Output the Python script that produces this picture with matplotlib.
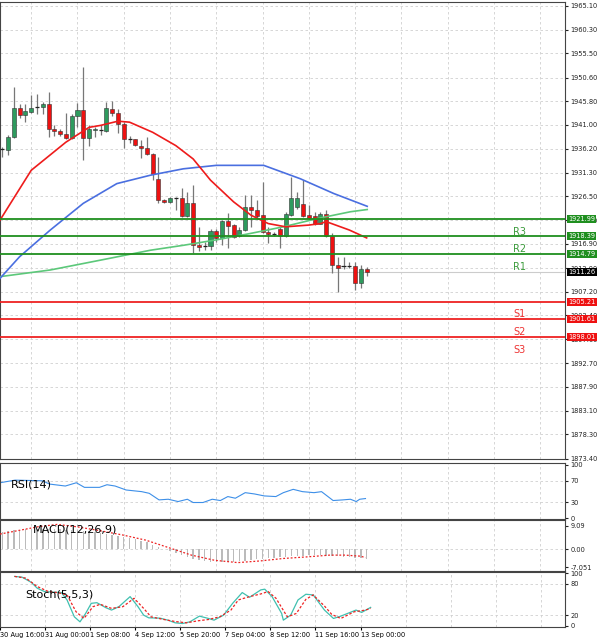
import numpy as np
import matplotlib.pyplot as plt

# candles: open, close, high, low
opens = [1936.2, 1936.0, 1938.5, 1944.4, 1943.1, 1943.6, 1944.7, 1944.7, 1945.25, 1940.2,
         1939.7, 1939.2, 1938.4, 1942.7, 1944.0, 1938.4, 1939.9, 1940.0, 1939.7, 1944.2,
         1943.4, 1941.2, 1938.05, 1938.05, 1936.8, 1936.4, 1935.2, 1930.1, 1925.7, 1925.4,
         1926.1, 1926.1, 1922.5, 1925.1, 1916.65, 1916.45, 1916.45, 1919.5, 1918.0, 1921.6,
         1920.7, 1918.5, 1919.7, 1924.4, 1923.7, 1922.7, 1919.3, 1918.9, 1920.0, 1918.5,
         1922.7, 1924.4, 1924.9, 1922.7, 1922.5, 1921.0, 1923.0, 1918.5, 1912.6, 1912.4,
         1912.4, 1912.4, 1909.0, 1911.7]
closes = [1936.3, 1938.5, 1944.4, 1943.1, 1943.8, 1944.4, 1944.8, 1945.25, 1940.2, 1939.7,
          1939.2, 1938.4, 1942.8, 1944.0, 1938.4, 1940.2, 1940.1, 1940.05, 1944.4, 1943.4,
          1941.2, 1938.2, 1938.0, 1937.0, 1936.4, 1935.2, 1931.1, 1925.7, 1925.4, 1926.1,
          1926.05, 1922.5, 1925.1, 1916.65, 1916.3, 1916.4, 1919.5, 1918.0, 1921.6, 1920.5,
          1918.3, 1919.7, 1924.4, 1923.7, 1922.5, 1919.3, 1918.9, 1918.85, 1918.5, 1922.9,
          1926.2, 1926.2, 1922.5, 1922.2, 1921.0, 1923.0, 1918.5, 1912.6, 1912.1, 1912.35,
          1912.35, 1909.0, 1911.7, 1911.26]
highs = [1936.6, 1938.9, 1948.6, 1945.25, 1945.25, 1947.1, 1947.27, 1945.6, 1947.6, 1940.9,
         1940.2, 1943.4, 1943.2, 1945.4, 1952.65, 1940.9, 1940.5, 1940.9, 1945.6, 1945.9,
         1944.2, 1941.55, 1938.7, 1938.2, 1938.0, 1938.5, 1935.3, 1934.5, 1925.9, 1926.4,
         1926.3, 1928.2, 1927.4, 1928.8, 1920.35, 1917.3, 1920.0, 1920.0, 1921.7, 1923.2,
         1921.0, 1920.35, 1926.7, 1926.7, 1925.7, 1929.4, 1920.35, 1919.3, 1920.35, 1923.4,
         1930.4, 1927.4, 1929.8, 1924.7, 1923.4, 1923.4, 1923.7, 1919.0, 1914.3, 1914.3,
         1913.3, 1913.3, 1912.6, 1912.3]
lows = [1934.5, 1934.8, 1938.4, 1942.4, 1941.55, 1943.4, 1943.2, 1943.2, 1938.5, 1938.7,
        1938.7, 1938.1, 1938.2, 1940.5, 1933.9, 1936.8, 1938.5, 1938.9, 1939.5, 1942.9,
        1939.3, 1936.4, 1937.3, 1936.8, 1934.35, 1934.8, 1929.8, 1925.1, 1925.1, 1925.2,
        1923.7, 1922.4, 1922.4, 1915.0, 1915.5, 1915.6, 1915.6, 1917.3, 1916.65, 1916.0,
        1918.0, 1918.2, 1919.5, 1920.35, 1922.0, 1919.0, 1917.0, 1918.5, 1916.0, 1918.3,
        1922.5, 1924.05, 1922.4, 1921.7, 1920.7, 1920.9, 1918.3, 1910.9, 1907.2, 1911.9,
        1912.1, 1907.6, 1907.9, 1910.3]

# moving averages (candle index, price)
ma_red_x = [-0.4, 5, 11, 15, 17, 20, 22, 26, 30, 33, 36, 40, 43, 46, 49, 53, 55, 56, 60, 63]
ma_red_y = [1921.7, 1931.8, 1937.5, 1940.5, 1940.9, 1941.75, 1941.55, 1939.5, 1936.8, 1934.1,
            1929.8, 1925.4, 1922.7, 1921.0, 1920.35, 1920.7, 1921.0, 1921.4, 1919.7, 1918.1]
ma_blue_x = [-0.4, 3, 8.3, 14, 19.8, 25.6, 31.3, 37, 45.2, 51.5, 57.3, 63.1]
ma_blue_y = [1909.9, 1914.3, 1919.7, 1925.1, 1929.1, 1930.8, 1932.1, 1932.8, 1932.8, 1930.1, 1927.1, 1924.5]
ma_green_x = [-0.4, 8.3, 17, 25.6, 31.3, 37, 42.9, 48.6, 54.4, 60.2, 63.1]
ma_green_y = [1910.25, 1911.6, 1913.6, 1915.6, 1916.6, 1917.7, 1919.0, 1920.35, 1922.0, 1923.4, 1923.85]

res_names = ['R3', 'R2', 'R1']
res_levels = [1921.99, 1918.39, 1914.79]
sup_names = ['S1', 'S2', 'S3']
sup_levels = [1905.21, 1901.61, 1898.01]
last_price = 1911.26

price_ticks = [1965.10, 1960.30, 1955.50, 1950.60, 1945.80, 1941.00, 1936.20, 1931.30, 1926.50,
               1921.70, 1916.90, 1912.00, 1907.20, 1902.40, 1897.60, 1892.70, 1887.90, 1883.10,
               1878.30, 1873.40]

date_idx = [-3, 5, 13, 21, 29, 37, 45, 53, 61]
date_labels = ['30 Aug 16:00', '31 Aug 00:00', '1 Sep 08:00', '4 Sep 12:00', '5 Sep 20:00',
               '7 Sep 04:00', '8 Sep 12:00', '11 Sep 16:00', '13 Sep 00:00']

rsi_x = [-0.4, 2.2, 6.9, 8.2, 10.9, 12.8, 14.2, 16.8, 18.1, 19.5, 21.4, 24.1, 25.4, 27.1, 28.7,
         30.4, 32.0, 33.0, 34.7, 36.3, 37.7, 39.0, 40.3, 42.0, 43.6, 45.3, 47.3, 48.6, 50.3,
         51.9, 53.9, 55.2, 57.2, 58.9, 60.2, 61.2, 61.8, 62.8]
rsi_y = [66.3, 71.2, 70, 63.8, 60.2, 66.3, 57.7, 57.7, 62.6, 60.2, 52.8, 49.7, 46.6, 34.3, 35.5,
         31.2, 35.5, 29.4, 29.4, 35.5, 33.1, 40.5, 37.4, 47.8, 45.4, 41.7, 40.5, 47.8, 54,
         49.7, 47.8, 49.7, 33.1, 34.3, 35.5, 31.2, 35.5, 36.8]

macd_hist = [6.5, 7.0, 7.3, 7.6, 7.8, 7.9, 8.0, 8.0, 7.9, 7.8, 7.7, 7.6, 7.5, 7.3, 7.2, 7.0, 6.6,
             6.2, 5.8, 5.4, 5.0, 4.6, 4.2, 3.8, 3.3, 2.6, 1.8, 1.0, 0.2, -0.6, -1.4, -2.2, -3.0,
             -3.7, -4.3, -4.7, -5.0, -5.1, -5.1, -5.0, -4.8, -4.6, -4.4, -4.1, -3.9, -3.7, -3.5,
             -3.3, -3.1, -2.9, -2.8, -2.6, -2.5, -2.4, -2.4, -2.4, -2.5, -2.6, -2.8, -3.0, -3.2,
             -3.4, -3.6, -3.9]
macd_sig_x = [-0.4, 6.2, 9.5, 12.8, 16.8, 20.8, 24.8, 28.7, 32.7, 36.7, 40.7, 44.6, 48.6, 52.6,
              56.6, 59.2, 61.9, 62.8]
macd_sig_y = [5.85, 8.7, 9.6, 8.7, 7.2, 5.5, 3.5, 0.65, -2.3, -4.3, -5.2, -4.55, -3.6, -3.0,
              -2.3, -2.3, -2.7, -3.25]

stoch_x = [-0.4, 0.9, 2.6, 3.6, 4.9, 6.9, 7.9, 8.9, 10.2, 11.2, 12.2, 13.2, 14.2, 15.8, 16.8,
           18.1, 20.1, 21.5, 22.5, 23.4, 25.4, 26.8, 28.1, 29.4, 30.7, 32.4, 34.0, 35.0, 36.7,
           38.3, 40.0, 41.3, 43.3, 44.0, 45.3, 47.0, 47.3, 48.6, 49.9, 51.3, 52.6, 54.6, 56.2,
           57.5, 60.2, 61.2, 62.8]
stoch_k = [94.0, 92.7, 82.5, 71.7, 65.3, 64.0, 63.4, 49.4, 17.4, 7.9, 23.8, 43.0, 44.2, 34.7,
           30.2, 36.6, 55.7, 36.6, 20.6, 15.5, 14.9, 11.1, 6.0, 4.7, 7.9, 18.7, 14.3, 11.1, 20.6,
           43.0, 63.4, 54.5, 68.5, 69.8, 55.7, 23.8, 11.1, 20.6, 49.4, 60.2, 58.9, 30.2, 14.3,
           18.7, 30.2, 25.7, 35.3]
stoch_sx = [-0.4, 1.6, 3.6, 5.6, 7.2, 8.9, 10.5, 11.9, 13.5, 14.8, 16.8, 18.8, 20.8, 22.5, 23.8,
            26.1, 28.1, 30.1, 32.1, 34.0, 36.0, 38.0, 39.3, 41.3, 43.3, 44.6, 46, 48, 49.6, 51.3,
            52.6, 54.6, 55.9, 57.5, 59.9, 61.9, 62.8]
stoch_d = [94.0, 90.8, 74.9, 65.3, 63.4, 58.9, 27.0, 14.3, 36.6, 41.1, 33.4, 36.6, 52.5, 33.4,
           17.4, 12.3, 8.5, 6.0, 9.8, 12.3, 17.4, 30.2, 49.4, 55.7, 60.8, 65.3, 52.5, 17.4, 23.8,
           50.6, 58.9, 37.9, 21.9, 14.3, 27.0, 30.2, 33.4]

W, H = 600, 643
fig = plt.figure(figsize=(W / 100, H / 100), dpi=100)
XL = (-0.4, 97.3)
AXW = 565 / W
grid_kw = dict(color='#d0d0d0', linestyle=(0, (3, 3)), linewidth=0.6)
vgrid = list(range(-3, 97, 8))
FS = 4.8


def panel(top, bottom):
    ax = fig.add_axes([0, 1 - bottom / H, AXW, (bottom - top) / H])
    ax.set_xlim(*XL)
    ax.yaxis.tick_right()
    ax.tick_params(axis='y', labelsize=FS, length=2, pad=2, colors='#222222')
    ax.tick_params(axis='x', length=0, labelbottom=False)
    for s in ax.spines.values():
        s.set_color('#444444')
        s.set_linewidth(0.8)
    for v in vgrid:
        ax.axvline(v, zorder=0, **grid_kw)
    return ax


# main price panel
ax = panel(2, 459)
ax.set_ylim(1873.3, 1965.9)
ax.set_yticks(price_ticks)
ax.set_yticklabels(['%.2f' % t for t in price_ticks])
for t in price_ticks:
    ax.axhline(t, zorder=0, **grid_kw)
for i in range(len(opens)):
    o, c, h, l = opens[i], closes[i], highs[i], lows[i]
    ax.vlines(i, l, h, color='#777777', linewidth=0.9, zorder=2)
    col = '#2e9b5e' if c > o else '#ee1111'
    lo, hi = min(o, c), max(o, c)
    if hi - lo < 0.15:
        ax.hlines(o, i - 0.35, i + 0.35, color='#222222', linewidth=0.9, zorder=3)
    else:
        ax.bar(i, hi - lo, bottom=lo, width=0.7, color=col, edgecolor='#333333', linewidth=0.4, zorder=3)
ax.plot(ma_green_x, ma_green_y, color='#5cc87a', linewidth=1.2, zorder=4)
ax.plot(ma_blue_x, ma_blue_y, color='#4a6fe0', linewidth=1.2, zorder=4)
ax.plot(ma_red_x, ma_red_y, color='#ee1c1c', linewidth=1.2, zorder=4)
ax.axhline(last_price, color='#cccccc', linewidth=0.8, zorder=1)
box = dict(boxstyle='square,pad=0.15', linewidth=0)
for name, lv in zip(res_names, res_levels):
    ax.axhline(lv, color='#1f8f1f', linewidth=1.3, zorder=5)
    ax.text(89.5, lv - 1.6, name, color='#3b9b3b', fontsize=7, ha='center', va='top')
    ax.text(1.006, lv, '%.2f' % lv, transform=ax.get_yaxis_transform(), color='white', fontsize=FS,
            va='center', ha='left', bbox=dict(box, facecolor='#1f8f1f'), zorder=10, clip_on=False)
for name, lv in zip(sup_names, sup_levels):
    ax.axhline(lv, color='#ee2222', linewidth=1.3, zorder=5)
    ax.text(89.5, lv - 1.6, name, color='#ee3333', fontsize=7, ha='center', va='top')
    ax.text(1.006, lv, '%.2f' % lv, transform=ax.get_yaxis_transform(), color='white', fontsize=FS,
            va='center', ha='left', bbox=dict(box, facecolor='#ee1111'), zorder=10, clip_on=False)
ax.text(1.006, last_price, '%.2f' % last_price, transform=ax.get_yaxis_transform(), color='white',
        fontsize=FS, va='center', ha='left', bbox=dict(box, facecolor='black'), zorder=10, clip_on=False)

# RSI
ax2 = panel(463, 519)
ax2.set_ylim(-1.4, 103.2)
ax2.set_yticks([100, 70, 30, 0])
for t in [70, 30]:
    ax2.axhline(t, zorder=0, **grid_kw)
ax2.plot(rsi_x, rsi_y, color='#3d8fe8', linewidth=0.8)
ax2.text(1.5, 72, 'RSI(14)', fontsize=8, va='top')

# MACD
ax3 = panel(520, 571)
ax3.set_ylim(-8.45, 11.3)
ax3.set_yticks([9.09, 0.0, -7.051])
ax3.set_yticklabels(['9.09', '0.00', '-7.051'])
ax3.axhline(0, zorder=0, **grid_kw)
ax3.bar(range(len(macd_hist)), macd_hist, width=0.25, color='#bbbbbb', zorder=2)
ax3.plot(macd_sig_x, macd_sig_y, color='#ee2222', linewidth=0.9, linestyle=(0, (1.5, 1.5)), zorder=3)
ax3.text(5.3, 9.5, 'MACD(12,26,9)', fontsize=8, va='top')

# Stochastic
ax4 = panel(572, 627)
ax4.set_ylim(-1.9, 102.4)
ax4.set_yticks([100, 80, 20, 0])
for t in [80, 20]:
    ax4.axhline(t, zorder=0, **grid_kw)
ax4.plot(stoch_x, stoch_k, color='#40c0b0', linewidth=0.9, zorder=3)
ax4.plot(stoch_sx, stoch_d, color='#ee2222', linewidth=0.9, linestyle=(0, (2, 1.5)), zorder=3)
ax4.text(1.5, 60, 'Stoch(5,5,3)', fontsize=8, va='center')
ax4.tick_params(axis='x', labelbottom=True, labelsize=FS, pad=1.5, length=2, direction='out')
ax4.set_xticks(date_idx)
ax4.set_xticklabels(date_labels, ha='left')

fig.savefig('out.png', dpi=100)
